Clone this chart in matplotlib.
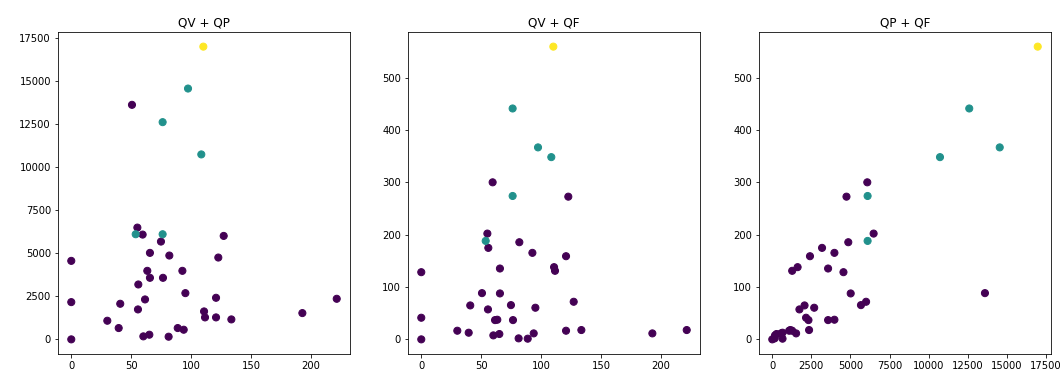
import numpy as np
import matplotlib
matplotlib.use('Agg')
import matplotlib.pyplot as plt

QV = [50.7, 55.2, 59.6, 127.3, 74.9, 65.7, 81.9, 122.8, 0.0, 63.5,
      92.8, 65.7, 76.6, 56.0, 95.3, 120.9, 61.6, 0.0, 40.9, 221.7,
      55.7, 110.9, 193.0, 111.7, 120.9, 30.1, 133.7, 39.6, 88.9, 93.9,
      60.2, 65.2, 81.3, 0.0,
      97.5, 108.6, 53.8, 76.3, 76.3,
      110.3]
QP = [13600, 6481, 6076, 5999, 5671, 5015, 4861, 4745, 4552, 3974,
      3974, 3569, 3569, 3183, 2681, 2411, 2315, 2160, 2064, 2353,
      1736, 1620, 1524, 1273, 1273, 1080, 1157, 656, 656, 559,
      174, 270, 154, 0,
      14545, 10725, 6096, 12596, 6096,
      16975]
QF = [88.3, 202.0, 299.9, 71.8, 65.4, 87.7, 185.5, 272.5, 128.3, 37.5,
      165.2, 135.3, 36.8, 174.7, 60.4, 158.8, 36.8, 41.3, 64.8, 17.8,
      57.2, 137.9, 11.4, 130.9, 16.5, 16.5, 17.8, 12.7, 1.3, 11.4,
      7.6, 10.2, 1.9, 0.0,
      366.6, 348.0, 188.0, 440.9, 273.8,
      559.0]
cluster = [0]*34 + [1]*5 + [2]

pairs = [(QV, QP, 'QV + QP'), (QV, QF, 'QV + QF'), (QP, QF, 'QP + QF')]

W, H = 1062, 374
fig = plt.figure(figsize=(W/72., H/72.), dpi=72)
lefts = [58, 408, 759]
for left, (xs, ys, title) in zip(lefts, pairs):
    ax = fig.add_axes([left/W, 20./H, 292./W, 322./H])
    ax.scatter(xs, ys, c=cluster, cmap='viridis', s=50)
    ax.set_title(title)

fig.savefig('out.png', dpi=72)
